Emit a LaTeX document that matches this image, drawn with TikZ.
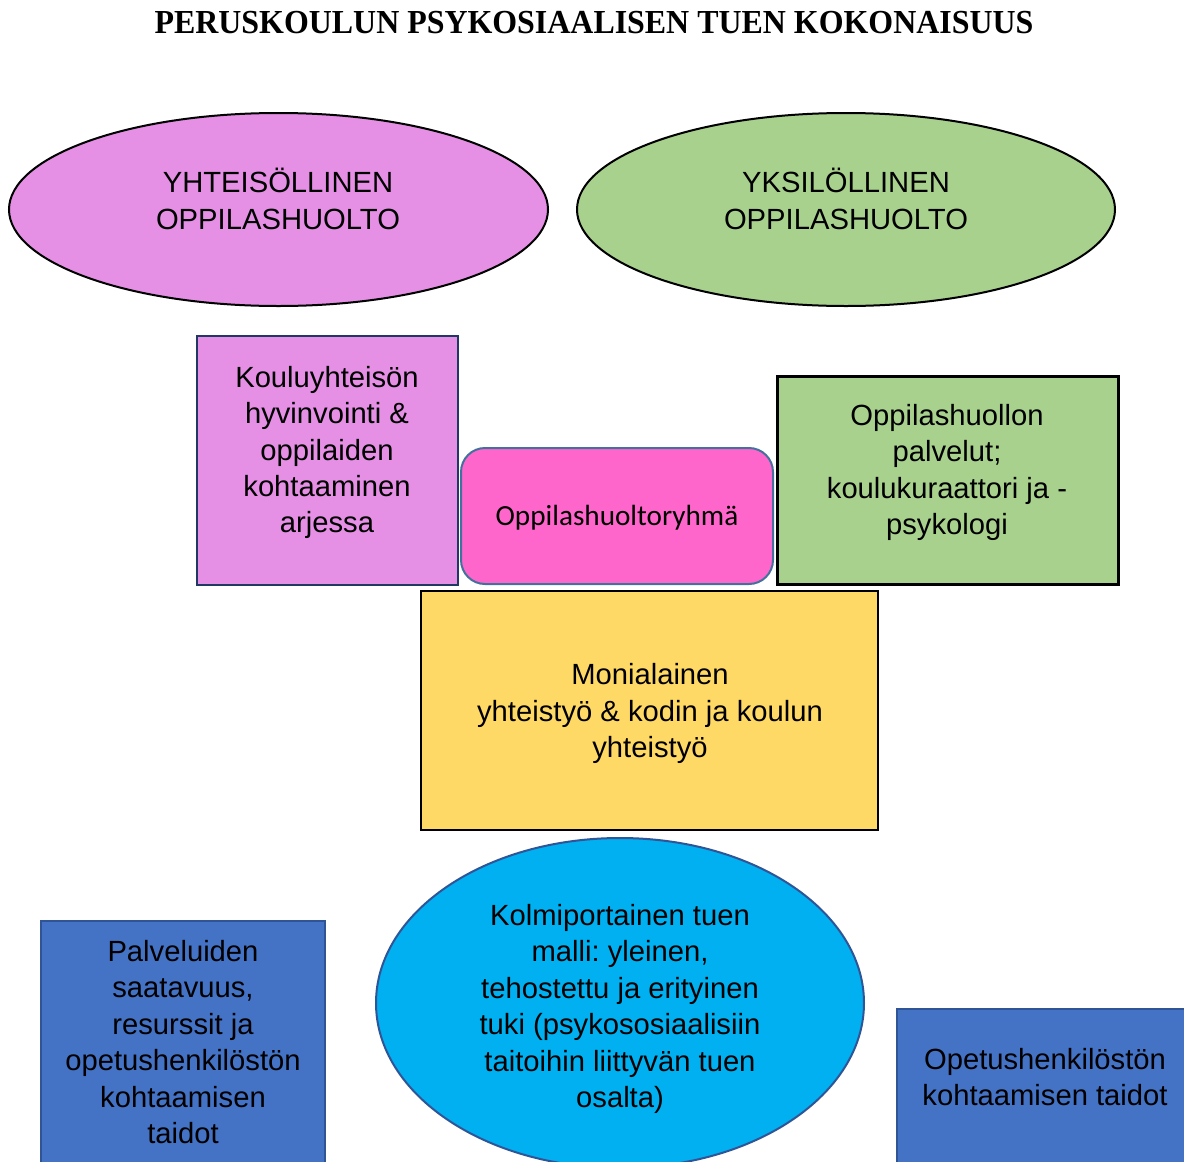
\documentclass[tikz,border=0pt]{standalone}
\usepackage{fontspec}
\setmainfont{Liberation Sans}
\newfontfamily\otsikkofont{Liberation Serif}
\newfontfamily\carlitofont{Carlito}
\usepackage{xcolor}
\usepackage{tikz}
\usetikzlibrary{shapes.geometric}
\frenchspacing

\definecolor{orkidea}{HTML}{E590E5}
\definecolor{vihrea}{HTML}{A9D18E}
\definecolor{pinkki}{HTML}{FF66CC}
\definecolor{keltainen}{HTML}{FFD966}
\definecolor{syaani}{HTML}{00B0F0}
\definecolor{sininen}{HTML}{4472C4}
\definecolor{tummasin}{HTML}{2F5597}
\definecolor{harmaasin}{HTML}{41719C}
\definecolor{laivasto}{HTML}{203864}

\tikzset{
    teksti/.style={align=center, font=\fontsize{14.6}{18.2}\selectfont},
    soikio/.style={draw, ellipse, line width=1pt},
    laatikko/.style={draw, rectangle, line width=1pt},
}

\begin{document}
\begin{tikzpicture}[x=0.5pt, y=-0.5pt]
    \useasboundingbox (0,0) rectangle (1184,1162);
    \clip (0,0) rectangle (1184,1162);

    % Otsikko
    \node[font=\otsikkofont\bfseries\fontsize{16.8}{20}\selectfont, xscale=0.95] (otsikko) at (594,23)
        {PERUSKOULUN PSYKOSIAALISEN TUEN KOKONAISUUS};

    % Oppilashuollon kaksi muotoa (soikiot)
    \node[soikio, fill=orkidea, minimum width=269.5pt, minimum height=96.5pt] (yhteis) at (278.5,209.5) {};
    \node[teksti] (yhteis-t) at (278,199) {YHTEISÖLLINEN\\OPPILASHUOLTO};
    \node[soikio, fill=vihrea, minimum width=269pt, minimum height=96.5pt] (yksil) at (846,209.5) {};
    \node[teksti] (yksil-t) at (846,199) {YKSILÖLLINEN\\OPPILASHUOLTO};

    % Keskirivin laatikot
    \node[laatikko, draw=laivasto, fill=orkidea, minimum width=130.5pt, minimum height=124.5pt] (koulu) at (327.5,460.5) {};
    \node[teksti] (koulu-t) at (327,452.5) {Kouluyhteisön\\hyvinvointi \&\\oppilaiden\\kohtaaminen\\arjessa};
    \node[draw=harmaasin, line width=1pt, fill=pinkki, rounded corners=12pt, minimum width=156pt, minimum height=68pt] (ryhma) at (617,516) {};
    \node[font=\carlitofont\fontsize{14.6}{18}\selectfont] (ryhma-t) at (617,518) {Oppilashuoltoryhmä};
    \node[laatikko, line width=1.5pt, fill=vihrea, minimum width=170.5pt, minimum height=104pt] (palvelut) at (947.5,480) {};
    \node[teksti] (palvelut-t) at (947,472.5) {Oppilashuollon\\palvelut;\\koulukuraattori ja -\\psykologi};

    % Yhteistyo
    \node[laatikko, line width=1.25pt, fill=keltainen, minimum width=228.5pt, minimum height=119.5pt] (monial) at (649.5,710.5) {};
    \node[teksti] (monial-t) at (650,713.5) {Monialainen\\yhteistyö \& kodin ja koulun\\yhteistyö};

    % Alarivi
    \node[soikio, draw=tummasin, fill=syaani, minimum width=244pt, minimum height=165pt] (kolmi) at (620,1003) {};
    \node[teksti] (kolmi-t) at (620,1009) {Kolmiportainen tuen\\malli: yleinen,\\tehostettu ja erityinen\\tuki (psykososiaalisiin\\taitoihin liittyvän tuen\\osalta)};
    \node[laatikko, draw=tummasin, fill=sininen, minimum width=142pt, minimum height=140pt] (saatav) at (183,1061) {};
    \node[teksti] (saatav-t) at (183,1042) {Palveluiden\\saatavuus,\\resurssit ja\\opetushenkilöstön\\kohtaamisen\\taidot};
    \node[laatikko, draw=tummasin, fill=sininen, minimum width=160pt, minimum height=110pt] (opetus) at (1057,1119) {};
    \node[teksti] (opetus-t) at (1045,1077) {Opetushenkilöstön\\kohtaamisen taidot};

\end{tikzpicture}
\end{document}
